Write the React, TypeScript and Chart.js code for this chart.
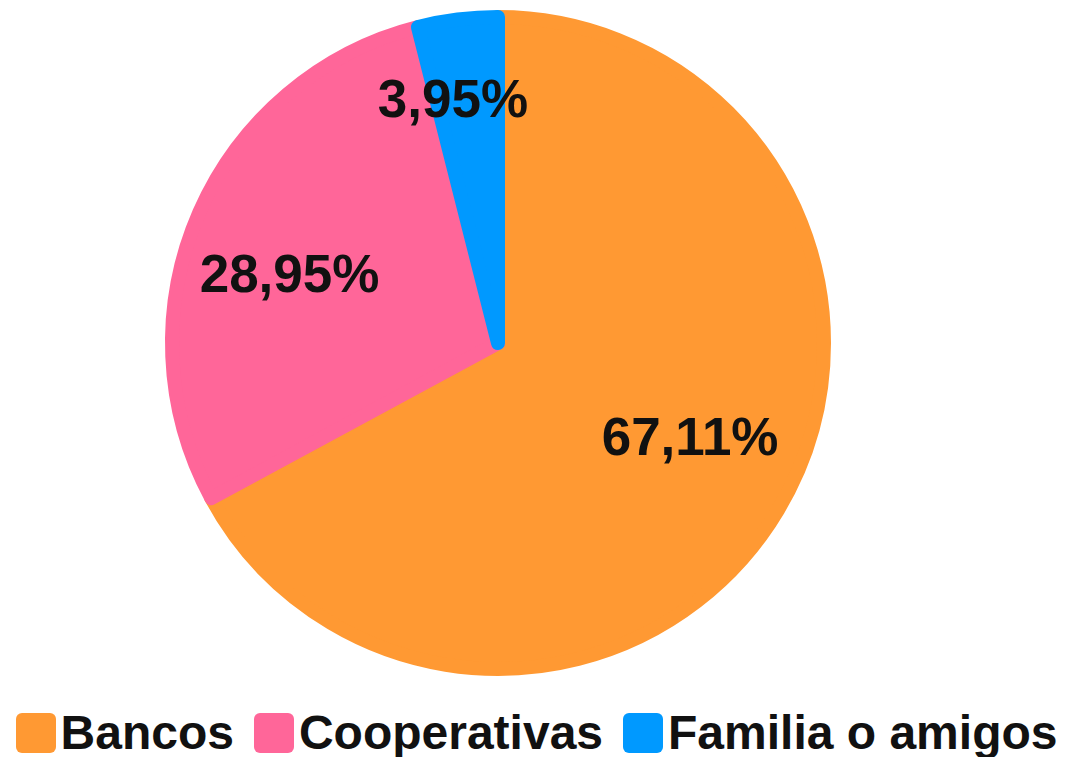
import React, { useEffect, useRef } from "react";
import { Chart, registerables } from "chart.js";

Chart.register(...registerables);

const categories = ["Bancos", "Cooperativas", "Familia o amigos"];
const values = [67.11, 28.95, 3.95];
const valueLabels = ["67,11%", "28,95%", "3,95%"];
const colors = ["#FF9933", "#FF6699", "#0099FF"];

const FONT = "'Liberation Sans', Arial, sans-serif";
const labelRadiusFactor = [0.66, 0.67, 0.75];
const labelAngleShiftDeg = [-4, -6.3, -3.5];

const labelPlugin = {
  id: "sliceLabels",
  afterDatasetsDraw(chart: any) {
    const ctx = chart.ctx;
    const meta = chart.getDatasetMeta(0);
    ctx.save();
    ctx.font = `bold 53px ${FONT}`;
    ctx.fillStyle = "#111111";
    ctx.textAlign = "center";
    ctx.textBaseline = "middle";
    meta.data.forEach((arc: any, i: number) => {
      const p = arc.getProps(["x", "y", "startAngle", "endAngle", "outerRadius"], true);
      const mid = (p.startAngle + p.endAngle) / 2 + (labelAngleShiftDeg[i] * Math.PI) / 180;
      const r = p.outerRadius * labelRadiusFactor[i];
      ctx.fillText(valueLabels[i], p.x + Math.cos(mid) * r, p.y + Math.sin(mid) * r);
    });
    ctx.restore();
  },
};

export default function App() {
  const ref = useRef<HTMLCanvasElement>(null);
  useEffect(() => {
    if (!ref.current) return;
    const chart = new Chart(ref.current, {
      type: "pie",
      data: {
        labels: categories,
        datasets: [
          {
            data: values,
            backgroundColor: colors,
            borderColor: colors,
            borderWidth: 14,
            borderJoinStyle: "round",
          },
        ],
      },
      options: {
        responsive: false,
        animation: false,
        layout: { padding: { top: 2, bottom: 2, left: 0, right: 70 } },
        plugins: {
          legend: { display: false },
          tooltip: { enabled: false },
        },
      },
      plugins: [labelPlugin],
    } as any);
    return () => chart.destroy();
  }, []);

  return (
    <div style={{ width: 1050 }}>
      <canvas ref={ref} width={1050} height={670} style={{ display: "block" }} />
      <div
        style={{
          marginTop: 31,
          paddingLeft: 7,
          display: "flex",
          justifyContent: "center",
          alignItems: "center",
          gap: 20,
          fontFamily: FONT,
          fontWeight: "bold",
          fontSize: 48,
          lineHeight: "48px",
          color: "#111111",
          whiteSpace: "nowrap",
        }}
      >
        {categories.map((c, i) => (
          <div key={c} style={{ display: "flex", alignItems: "center" }}>
            <span
              style={{
                display: "inline-block",
                width: 40,
                height: 40,
                borderRadius: 6,
                background: colors[i],
                marginRight: 5,
              }}
            />
            <span>{c}</span>
          </div>
        ))}
      </div>
    </div>
  );
}
